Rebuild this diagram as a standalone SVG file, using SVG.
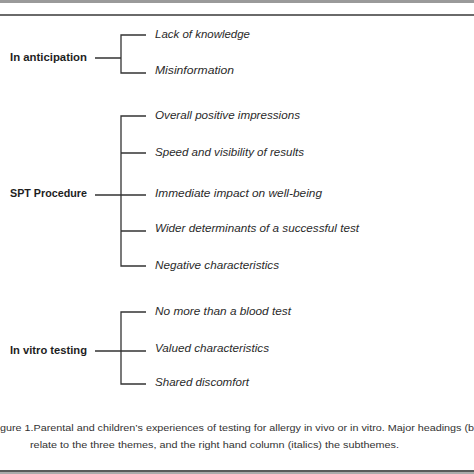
<svg xmlns="http://www.w3.org/2000/svg" width="474" height="474" viewBox="0 0 474 474">
<style>
.h{font-family:"Liberation Sans",Arial,sans-serif;font-weight:bold;font-size:11.5px;fill:#1e1e1e}
.s{font-family:"Liberation Sans",Arial,sans-serif;font-style:italic;font-size:11.3px;fill:#2a2a2a}
.c{font-family:"Liberation Sans",Arial,sans-serif;font-size:9.5px;fill:#333}
.ln{stroke:#333;stroke-width:1.3;fill:none}
</style>
<rect width="474" height="474" fill="#fff"/>
<rect x="0" y="0" width="474" height="3" fill="#9a9a9a"/>
<rect x="0" y="14" width="474" height="2" fill="#6a6a6a"/>
<rect x="0" y="470" width="474" height="2" fill="#5a5a5a"/>
<rect x="0" y="472" width="474" height="2" fill="#aaa"/>
<g id="connectors">
<path class="ln" d="M95 58H121M146 35H121V73H146"/>
<path class="ln" d="M95 195H146M146 116H121V266H146M121 153H146M121 231H146"/>
<path class="ln" d="M95 351H146M146 312H121V384H146"/>
</g>
<g id="n1"><text class="h" x="10" y="61" textLength="77" lengthAdjust="spacingAndGlyphs">In anticipation</text></g>
<g id="n2"><text class="h" x="10" y="197" textLength="77" lengthAdjust="spacingAndGlyphs">SPT Procedure</text></g>
<g id="n3"><text class="h" x="10" y="354" textLength="77" lengthAdjust="spacingAndGlyphs">In vitro testing</text></g>
<g id="s1"><text class="s" x="155" y="38" textLength="95" lengthAdjust="spacingAndGlyphs">Lack of knowledge</text></g>
<g id="s2"><text class="s" x="155" y="74" textLength="79" lengthAdjust="spacingAndGlyphs">Misinformation</text></g>
<g id="s3"><text class="s" x="155" y="119" textLength="145" lengthAdjust="spacingAndGlyphs">Overall positive impressions</text></g>
<g id="s4"><text class="s" x="155" y="156" textLength="149" lengthAdjust="spacingAndGlyphs">Speed and visibility of results</text></g>
<g id="s5"><text class="s" x="155" y="197" textLength="167" lengthAdjust="spacingAndGlyphs">Immediate impact on well-being</text></g>
<g id="s6"><text class="s" x="155" y="232" textLength="204" lengthAdjust="spacingAndGlyphs">Wider determinants of a successful test</text></g>
<g id="s7"><text class="s" x="155" y="269" textLength="124" lengthAdjust="spacingAndGlyphs">Negative characteristics</text></g>
<g id="s8"><text class="s" x="155" y="315" textLength="136" lengthAdjust="spacingAndGlyphs">No more than a blood test</text></g>
<g id="s9"><text class="s" x="155" y="352" textLength="114" lengthAdjust="spacingAndGlyphs">Valued characteristics</text></g>
<g id="s10"><text class="s" x="155" y="386" textLength="94" lengthAdjust="spacingAndGlyphs">Shared discomfort</text></g>
<text class="c" x="0" y="431" textLength="474" lengthAdjust="spacingAndGlyphs">gure 1.Parental and children’s experiences of testing for allergy in vivo or in vitro. Major headings (b</text>
<text class="c" x="30" y="448" textLength="369" lengthAdjust="spacingAndGlyphs">relate to the three themes, and the right hand column (italics) the subthemes.</text>
</svg>
